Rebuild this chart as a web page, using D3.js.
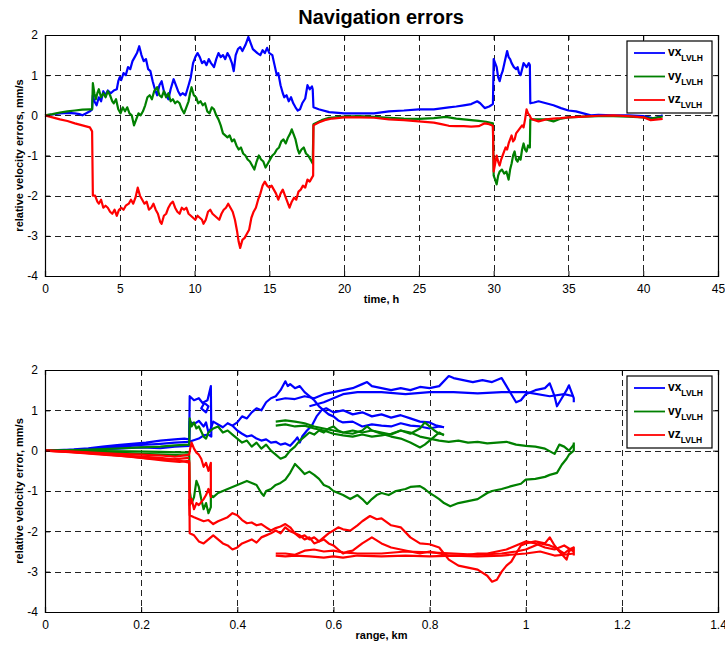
<!DOCTYPE html>
<html>
<head>
<meta charset="utf-8">
<script src="https://cdn.jsdelivr.net/npm/d3@7"></script>
<style>
body{margin:0;background:#fff;}
text{font-family:"Liberation Sans",Arial,Helvetica,sans-serif;}
</style>
</head>
<body>
<script>
"use strict";

// ---- top panel: errors vs time (h) ----
var topVx = [[0,0],[0.5,0.02],[1,0.05],[1.5,0.06],[2,0.05],[2.3,0.03],[2.5,0.0],[2.7,0.04],[3,0.1],[3.15,0.15],[3.2,0.5],[3.3,0.35],[3.45,0.25],[3.6,0.45],[3.75,0.35],[3.9,0.6],[4.05,0.5],[4.2,0.62],[4.4,0.55],[4.6,0.62],[4.8,0.65],[4.9,0.85],[5.0,0.95],[5.1,0.88],[5.25,1.05],[5.4,1.0],[5.55,1.2],[5.7,1.15],[5.85,1.35],[6.0,1.45],[6.15,1.55],[6.3,1.72],[6.45,1.5],[6.6,1.35],[6.75,1.4],[6.9,1.15],[7.05,1.1],[7.2,0.85],[7.35,0.65],[7.5,0.5],[7.65,0.75],[7.8,0.85],[7.95,0.6],[8.1,0.5],[8.25,0.4],[8.4,0.65],[8.6,0.9],[8.75,0.75],[8.9,0.6],[9.05,0.5],[9.2,0.55],[9.4,0.5],[9.6,0.75],[9.75,0.95],[9.9,1.3],[10.05,1.45],[10.2,1.55],[10.35,1.45],[10.5,1.3],[10.65,1.35],[10.8,1.25],[10.95,1.4],[11.1,1.3],[11.3,1.2],[11.45,1.4],[11.6,1.55],[11.75,1.45],[11.9,1.5],[12.05,1.4],[12.2,1.55],[12.35,1.45],[12.5,1.3],[12.62,1.1],[12.75,1.5],[12.9,1.65],[13.05,1.7],[13.2,1.6],[13.4,1.75],[13.6,1.95],[13.75,1.8],[13.9,1.65],[14.05,1.6],[14.2,1.55],[14.4,1.5],[14.55,1.62],[14.7,1.55],[14.85,1.68],[15.0,1.55],[15.2,1.5],[15.35,1.25],[15.5,1.0],[15.6,1.05],[15.75,0.75],[15.9,0.55],[16.0,0.45],[16.15,0.5],[16.3,0.35],[16.45,0.45],[16.6,0.3],[16.75,0.2],[16.9,0.12],[17.05,0.15],[17.2,0.3],[17.4,0.42],[17.55,0.75],[17.7,0.65],[17.85,0.72],[17.9,0.65],[17.95,0.2],[18.3,0.15],[19,0.08],[20,0.05],[21,0.05],[22,0.05],[23,0.1],[24,0.12],[25,0.15],[26,0.15],[27,0.2],[27.5,0.22],[28,0.25],[28.5,0.28],[28.9,0.35],[29.1,0.3],[29.4,0.18],[29.7,0.22],[29.95,0.28],[30.0,1.4],[30.1,1.3],[30.2,1.2],[30.3,0.95],[30.4,0.85],[30.5,1.0],[30.6,1.1],[30.75,1.35],[30.9,1.6],[31.0,1.45],[31.1,1.4],[31.2,1.3],[31.35,1.2],[31.5,1.15],[31.6,1.2],[31.7,1.05],[31.8,1.0],[31.9,1.15],[32.0,1.3],[32.1,1.25],[32.2,1.2],[32.35,1.3],[32.42,1.25],[32.45,0.3],[32.7,0.32],[33,0.35],[33.5,0.3],[34,0.25],[34.5,0.18],[35,0.12],[35.5,0.1],[36,0.05],[36.5,0.0],[37,0.01],[38,0.0],[39,0.0],[40,-0.02],[40.4,-0.05],[40.7,-0.08],[41,-0.04],[41.3,0.0]];

var topVy = [[0,0],[0.5,0.03],[1,0.07],[1.5,0.1],[2,0.12],[2.5,0.14],[3,0.15],[3.15,0.15],[3.2,0.8],[3.3,0.55],[3.4,0.4],[3.5,0.55],[3.6,0.65],[3.75,0.45],[3.9,0.55],[4.05,0.45],[4.2,0.6],[4.35,0.5],[4.5,0.35],[4.6,0.3],[4.75,0.4],[4.9,0.15],[5.05,0.05],[5.2,0.2],[5.35,0.1],[5.5,0.2],[5.65,0.05],[5.8,0.0],[5.95,-0.25],[6.1,-0.1],[6.25,0.05],[6.4,0.0],[6.55,0.1],[6.7,0.25],[6.85,0.45],[7.0,0.5],[7.15,0.4],[7.3,0.6],[7.5,0.7],[7.65,0.5],[7.8,0.45],[7.95,0.6],[8.1,0.45],[8.25,0.55],[8.4,0.35],[8.55,0.4],[8.7,0.3],[8.85,0.35],[9.0,0.3],[9.15,0.15],[9.3,0.05],[9.45,0.2],[9.6,0.35],[9.7,0.55],[9.8,0.7],[9.95,0.5],[10.1,0.45],[10.25,0.3],[10.4,0.35],[10.55,0.25],[10.7,0.3],[10.85,0.1],[11.0,0.05],[11.15,0.2],[11.3,0.15],[11.45,0.0],[11.6,-0.1],[11.75,-0.25],[11.9,-0.45],[12.05,-0.5],[12.2,-0.55],[12.35,-0.5],[12.5,-0.65],[12.65,-0.6],[12.8,-0.75],[12.95,-0.85],[13.1,-0.8],[13.25,-0.95],[13.4,-1.0],[13.55,-1.1],[13.7,-1.15],[13.85,-1.25],[14.0,-1.35],[14.15,-1.15],[14.3,-1.0],[14.45,-1.1],[14.6,-1.15],[14.75,-1.3],[14.9,-1.2],[15.05,-1.1],[15.2,-1.0],[15.35,-0.95],[15.5,-0.85],[15.65,-0.8],[15.8,-0.65],[15.95,-0.6],[16.1,-0.7],[16.25,-0.55],[16.4,-0.45],[16.5,-0.35],[16.6,-0.45],[16.75,-0.6],[16.9,-0.85],[17.0,-0.95],[17.15,-0.85],[17.3,-0.8],[17.45,-0.95],[17.6,-1.0],[17.75,-1.1],[17.9,-1.2],[17.95,-0.22],[18.5,-0.12],[19,-0.06],[20,-0.03],[21,-0.02],[22,-0.04],[23,-0.06],[24,-0.08],[25,-0.09],[26,-0.07],[26.8,-0.04],[27.5,-0.08],[28,-0.1],[28.5,-0.12],[29,-0.14],[29.5,-0.16],[29.95,-0.2],[30.0,-1.5],[30.1,-1.6],[30.2,-1.72],[30.3,-1.5],[30.4,-1.4],[30.55,-1.35],[30.7,-1.45],[30.85,-1.4],[31.0,-1.6],[31.1,-1.35],[31.2,-1.2],[31.3,-1.0],[31.4,-0.9],[31.5,-1.1],[31.6,-1.15],[31.7,-1.05],[31.8,-1.1],[31.9,-0.85],[32.0,-0.7],[32.1,-0.85],[32.2,-0.9],[32.3,-0.75],[32.42,-0.8],[32.45,-0.1],[33,-0.1],[33.5,-0.1],[34,-0.15],[34.5,-0.08],[35,-0.05],[36,-0.03],[37,-0.02],[38,-0.02],[39,-0.03],[40,-0.05],[40.5,-0.08],[41,-0.05],[41.3,-0.03]];

var topVz = [[0,0],[0.5,-0.05],[1,-0.1],[1.5,-0.14],[2,-0.2],[2.5,-0.25],[3,-0.3],[3.15,-0.4],[3.2,-2.0],[3.35,-2.0],[3.5,-2.15],[3.6,-2.2],[3.75,-2.1],[3.9,-2.3],[4.05,-2.25],[4.2,-2.3],[4.35,-2.4],[4.5,-2.45],[4.65,-2.35],[4.8,-2.5],[4.95,-2.35],[5.1,-2.3],[5.25,-2.35],[5.4,-2.25],[5.6,-2.2],[5.75,-2.1],[5.9,-2.2],[6.05,-2.05],[6.2,-1.8],[6.35,-2.0],[6.5,-2.1],[6.65,-2.2],[6.8,-2.15],[6.95,-2.35],[7.1,-2.3],[7.25,-2.2],[7.4,-2.35],[7.55,-2.45],[7.7,-2.65],[7.8,-2.7],[7.95,-2.5],[8.1,-2.45],[8.25,-2.3],[8.4,-2.2],[8.55,-2.15],[8.7,-2.3],[8.85,-2.4],[9.0,-2.45],[9.15,-2.3],[9.3,-2.35],[9.45,-2.3],[9.6,-2.45],[9.75,-2.5],[9.9,-2.55],[10.05,-2.6],[10.2,-2.5],[10.35,-2.55],[10.5,-2.6],[10.6,-2.7],[10.75,-2.6],[10.9,-2.4],[11.05,-2.35],[11.2,-2.45],[11.35,-2.5],[11.5,-2.55],[11.65,-2.6],[11.8,-2.45],[11.95,-2.35],[12.1,-2.3],[12.25,-2.2],[12.4,-2.3],[12.55,-2.4],[12.7,-2.6],[12.85,-2.9],[12.95,-3.15],[13.05,-3.3],[13.2,-3.1],[13.35,-3.05],[13.5,-2.95],[13.65,-2.85],[13.8,-2.55],[13.95,-2.4],[14.1,-2.3],[14.25,-2.1],[14.4,-1.95],[14.55,-1.75],[14.7,-1.65],[14.85,-1.75],[15.0,-1.8],[15.15,-1.75],[15.3,-1.85],[15.45,-1.95],[15.6,-2.1],[15.75,-1.95],[15.9,-1.85],[16.05,-2.0],[16.2,-2.15],[16.35,-2.3],[16.5,-2.15],[16.65,-2.05],[16.8,-2.1],[16.95,-1.9],[17.1,-1.85],[17.25,-1.75],[17.4,-1.8],[17.55,-1.6],[17.7,-1.65],[17.85,-1.55],[17.93,-1.5],[17.95,-0.25],[18.3,-0.18],[18.7,-0.12],[19.2,-0.08],[20,-0.05],[21,-0.05],[22,-0.06],[23,-0.1],[24,-0.12],[25,-0.15],[26,-0.18],[26.5,-0.22],[27,-0.26],[27.5,-0.27],[28,-0.27],[28.5,-0.28],[29,-0.27],[29.4,-0.2],[29.7,-0.22],[29.95,-0.26],[30.0,-1.4],[30.1,-1.2],[30.2,-1.0],[30.3,-1.15],[30.4,-1.25],[30.5,-1.1],[30.6,-1.0],[30.7,-0.9],[30.8,-0.8],[30.9,-0.85],[31.0,-0.7],[31.1,-0.6],[31.2,-0.5],[31.3,-0.65],[31.4,-0.6],[31.5,-0.45],[31.6,-0.4],[31.7,-0.35],[31.8,-0.3],[31.9,-0.25],[32.0,-0.3],[32.1,-0.1],[32.2,0.15],[32.3,0.05],[32.4,0.0],[32.5,-0.08],[32.6,-0.1],[33,-0.15],[33.5,-0.1],[34,-0.08],[34.5,-0.07],[35,-0.05],[36,-0.03],[37,-0.01],[38,0.0],[39,-0.02],[40,-0.05],[40.5,-0.12],[41,-0.1],[41.3,-0.09]];

// ---- bottom panel: errors vs range (km), one array per traced stroke ----
var rangeVxA = [[0,0],[0.03,0.01],[0.06,0.03],[0.09,0.06],[0.12,0.1],[0.15,0.14],[0.18,0.17],[0.21,0.2],[0.24,0.25],[0.27,0.28],[0.29,0.3],[0.3,0.28],[0.301,1.35],[0.31,1.25],[0.32,1.3],[0.33,1.15],[0.325,1.05],[0.335,0.95],[0.34,1.1],[0.33,1.2],[0.338,1.25],[0.345,1.6],[0.346,0.35],[0.34,0.4],[0.33,0.38],[0.32,0.3],[0.3,0.22],[0.27,0.2],[0.24,0.17],[0.2,0.14],[0.16,0.1],[0.12,0.07],[0.08,0.04],[0.04,0.02],[0,0]];
var rangeVxB = [[0,0],[0.05,0.01],[0.1,0.03],[0.15,0.05],[0.2,0.08],[0.24,0.06],[0.27,0.1],[0.3,0.12],[0.301,0.72],[0.31,0.66],[0.32,0.74],[0.33,0.6],[0.335,0.7],[0.34,0.45],[0.345,0.55],[0.35,0.72],[0.36,0.65],[0.37,0.58],[0.38,0.68],[0.39,0.62],[0.4,0.5],[0.41,0.42],[0.42,0.35],[0.43,0.38],[0.44,0.3],[0.45,0.25],[0.46,0.28],[0.47,0.2],[0.48,0.22],[0.49,0.15],[0.5,0.18],[0.51,0.12],[0.52,0.25],[0.525,0.33],[0.53,0.2],[0.535,0.35],[0.545,0.5],[0.555,0.62],[0.565,0.85],[0.575,1.0],[0.585,1.05],[0.6,0.95],[0.62,1.0],[0.64,0.9],[0.66,0.95],[0.68,0.85],[0.7,0.9],[0.72,0.82],[0.74,0.88],[0.76,0.8],[0.78,0.72],[0.8,0.7],[0.815,0.62],[0.83,0.58]];
var rangeVxC = [[0.39,0.62],[0.4,0.7],[0.41,0.85],[0.42,0.8],[0.43,0.95],[0.44,1.05],[0.45,1.0],[0.46,1.2],[0.47,1.3],[0.48,1.35],[0.49,1.5],[0.5,1.72],[0.505,1.6],[0.51,1.65],[0.52,1.55],[0.53,1.6],[0.54,1.45],[0.55,1.35],[0.56,1.25],[0.57,1.1],[0.58,1.0],[0.59,0.9],[0.6,0.85],[0.61,0.75],[0.62,0.7],[0.64,0.72],[0.66,0.6],[0.68,0.65],[0.7,0.62],[0.72,0.6],[0.74,0.68],[0.76,0.62],[0.78,0.6],[0.8,0.55],[0.82,0.6],[0.83,0.58]];
var rangeVxD = [[0.48,1.25],[0.5,1.3],[0.52,1.28],[0.54,1.35],[0.56,1.3],[0.58,1.4],[0.6,1.45],[0.62,1.5],[0.64,1.55],[0.66,1.65],[0.67,1.7],[0.68,1.6],[0.7,1.55],[0.72,1.5],[0.74,1.55],[0.76,1.5],[0.78,1.58],[0.8,1.55],[0.82,1.6],[0.84,1.85],[0.85,1.8],[0.87,1.75],[0.89,1.7],[0.91,1.75],[0.93,1.7],[0.95,1.8],[0.96,1.6],[0.97,1.4],[0.98,1.2],[0.99,1.25],[1.0,1.4],[1.02,1.5],[1.04,1.55],[1.05,1.67],[1.06,1.35],[1.065,1.1],[1.075,1.3],[1.085,1.5],[1.09,1.62],[1.1,1.3],[1.1,1.2]];
var rangeVxE = [[0.55,1.1],[0.58,1.2],[0.6,1.3],[0.62,1.4],[0.65,1.45],[0.7,1.45],[0.75,1.4],[0.8,1.45],[0.85,1.45],[0.9,1.42],[0.95,1.45],[1.0,1.45],[1.05,1.35],[1.08,1.4],[1.1,1.35]];

var rangeVyA = [[0,0],[0.04,0.01],[0.08,0.02],[0.12,0.04],[0.16,0.06],[0.2,0.08],[0.24,0.1],[0.27,0.13],[0.3,0.15],[0.301,0.8],[0.305,0.6],[0.31,0.7],[0.315,0.55],[0.32,0.6],[0.33,0.35],[0.335,0.3],[0.34,0.45],[0.35,0.55],[0.36,0.6],[0.37,0.45],[0.38,0.5],[0.39,0.4],[0.4,0.3],[0.41,0.2],[0.42,0.25],[0.43,0.1],[0.44,0.2],[0.45,0.05],[0.46,0.15],[0.47,0.0],[0.48,-0.1],[0.49,-0.2],[0.5,-0.15],[0.51,0.0],[0.52,0.1],[0.53,0.25],[0.54,0.35],[0.55,0.45],[0.56,0.4],[0.57,0.5],[0.58,0.45],[0.59,0.55],[0.6,0.6],[0.61,0.5],[0.62,0.45],[0.64,0.5],[0.66,0.45],[0.68,0.5],[0.7,0.45],[0.72,0.4],[0.74,0.5],[0.76,0.45],[0.78,0.35],[0.8,0.3],[0.82,0.25],[0.84,0.22],[0.86,0.25],[0.88,0.2],[0.9,0.22],[0.92,0.18],[0.94,0.2],[0.96,0.22],[0.98,0.15],[1.0,0.12],[1.02,0.1],[1.04,0.05],[1.06,-0.08],[1.07,0.15],[1.08,0.1],[1.09,0.0],[1.1,0.15]];
var rangeVyB = [[0,0],[0.05,-0.01],[0.1,-0.03],[0.15,-0.05],[0.2,-0.08],[0.25,-0.1],[0.3,-0.12],[0.301,-1.0],[0.305,-1.3],[0.31,-1.15],[0.315,-0.75],[0.32,-0.9],[0.325,-1.2],[0.33,-1.45],[0.335,-1.3],[0.34,-1.55],[0.345,-1.4],[0.345,-1.1],[0.35,-1.15],[0.36,-1.05],[0.37,-1.0],[0.38,-0.95],[0.39,-0.9],[0.4,-0.85],[0.41,-0.8],[0.42,-0.75],[0.43,-0.8],[0.44,-0.85],[0.45,-1.05],[0.455,-1.12],[0.46,-1.0],[0.47,-0.95],[0.48,-0.85],[0.49,-0.8],[0.5,-0.72],[0.51,-0.55],[0.52,-0.33],[0.53,-0.45],[0.54,-0.58],[0.55,-0.52],[0.56,-0.6],[0.57,-0.7],[0.58,-0.85],[0.59,-0.9],[0.6,-1.0],[0.61,-1.05],[0.62,-1.1],[0.635,-1.2],[0.65,-1.1],[0.66,-1.2],[0.67,-1.32],[0.68,-1.2],[0.69,-1.1],[0.7,-1.05],[0.715,-1.1],[0.73,-1.0],[0.75,-0.95],[0.76,-0.9],[0.78,-0.88],[0.79,-0.95],[0.8,-1.05],[0.81,-1.12],[0.82,-1.2],[0.83,-1.3],[0.843,-1.38],[0.86,-1.3],[0.88,-1.25],[0.9,-1.2],[0.92,-1.05],[0.93,-1.0],[0.95,-0.95],[0.97,-0.88],[0.99,-0.82],[1.0,-0.72],[1.02,-0.7],[1.04,-0.65],[1.05,-0.6],[1.065,-0.55],[1.075,-0.35],[1.085,-0.2],[1.09,-0.1],[1.1,0.0],[1.1,0.2]];
var rangeVyC = [[0,0],[0.06,0.0],[0.12,-0.01],[0.18,-0.02],[0.24,-0.03],[0.3,-0.05]];
var rangeVyD = [[0.48,0.72],[0.5,0.75],[0.52,0.72],[0.54,0.68],[0.56,0.6],[0.58,0.55],[0.6,0.5],[0.62,0.45],[0.64,0.42],[0.66,0.5],[0.67,0.6],[0.68,0.5],[0.7,0.42],[0.72,0.35],[0.74,0.3],[0.76,0.2],[0.78,0.08],[0.79,0.15],[0.8,0.25],[0.81,0.35],[0.82,0.45],[0.83,0.38]];
var rangeVyE = [[0.48,0.62],[0.5,0.65],[0.52,0.6],[0.54,0.62],[0.56,0.55],[0.58,0.5],[0.6,0.42],[0.62,0.38],[0.64,0.35],[0.66,0.4],[0.68,0.35],[0.7,0.38],[0.72,0.42],[0.74,0.5],[0.76,0.42],[0.78,0.55],[0.79,0.7],[0.8,0.6],[0.81,0.5],[0.82,0.42],[0.83,0.4]];

var rangeVzA = [[0,0],[0.04,-0.02],[0.08,-0.05],[0.12,-0.08],[0.16,-0.12],[0.2,-0.15],[0.24,-0.18],[0.27,-0.22],[0.3,-0.3],[0.301,-2.05],[0.31,-2.1],[0.32,-2.25],[0.33,-2.3],[0.34,-2.2],[0.35,-2.1],[0.36,-2.2],[0.37,-2.3],[0.38,-2.35],[0.39,-2.45],[0.4,-2.4],[0.41,-2.3],[0.42,-2.25],[0.43,-2.2],[0.44,-2.28],[0.45,-2.15],[0.46,-2.1],[0.47,-2.05],[0.48,-1.98],[0.49,-2.05],[0.5,-1.9],[0.51,-2.0],[0.52,-2.05],[0.53,-2.15],[0.54,-2.1],[0.55,-2.2],[0.56,-2.15],[0.57,-2.25],[0.58,-2.2],[0.59,-2.3],[0.6,-2.35],[0.61,-2.45],[0.62,-2.55],[0.63,-2.5],[0.64,-2.48],[0.66,-2.3],[0.68,-2.15],[0.7,-2.3],[0.72,-2.4],[0.74,-2.45],[0.76,-2.5],[0.78,-2.55],[0.8,-2.5],[0.82,-2.55],[0.84,-2.6],[0.86,-2.6],[0.88,-2.58],[0.9,-2.55],[0.92,-2.55],[0.94,-2.5],[0.96,-2.45],[0.98,-2.35],[1.0,-2.25],[1.02,-2.3],[1.04,-2.4],[1.06,-2.45],[1.08,-2.35],[1.1,-2.5]];
var rangeVzB = [[0,0],[0.05,-0.03],[0.1,-0.07],[0.15,-0.12],[0.2,-0.18],[0.25,-0.25],[0.28,-0.28],[0.3,-0.25],[0.301,-1.35],[0.305,-1.2],[0.31,-1.45],[0.315,-1.3],[0.32,-1.35],[0.33,-1.2],[0.335,-1.1],[0.34,-0.95],[0.345,-1.15],[0.345,-0.3],[0.34,-0.5],[0.335,-0.3],[0.33,-0.4],[0.325,-0.2],[0.32,-0.1],[0.315,-0.05],[0.31,0.05],[0.305,0.2],[0.302,0.05],[0.3,-0.1],[0.27,-0.15],[0.24,-0.12],[0.2,-0.1],[0.15,-0.08],[0.1,-0.05],[0.05,-0.02],[0,0]];
var rangeVzC = [[0,0],[0.06,-0.04],[0.12,-0.1],[0.18,-0.15],[0.22,-0.2],[0.26,-0.22],[0.3,-0.18]];
var rangeVzD = [[0.3,-1.2],[0.301,-1.6],[0.31,-1.65],[0.32,-1.7],[0.33,-1.75],[0.34,-1.72],[0.35,-1.82],[0.36,-1.75],[0.37,-1.7],[0.38,-1.65],[0.39,-1.55],[0.4,-1.6],[0.41,-1.72],[0.42,-1.8],[0.43,-1.78],[0.44,-1.85],[0.45,-1.82],[0.46,-1.9],[0.47,-1.98],[0.48,-1.92],[0.49,-1.88],[0.5,-1.82],[0.51,-1.9],[0.52,-2.05],[0.53,-2.1],[0.54,-2.2],[0.55,-2.15],[0.56,-2.3],[0.57,-2.25],[0.58,-2.15],[0.59,-2.05],[0.6,-1.98],[0.61,-1.9],[0.62,-1.95],[0.635,-1.98],[0.65,-1.85],[0.66,-1.75],[0.676,-1.62],[0.69,-1.7],[0.7,-1.68],[0.72,-1.85],[0.74,-1.9],[0.76,-2.15],[0.78,-2.3],[0.8,-2.32],[0.82,-2.4],[0.84,-2.7],[0.86,-2.85],[0.88,-2.9],[0.9,-2.95],[0.92,-3.1],[0.93,-3.25],[0.94,-3.2],[0.95,-3.0],[0.96,-2.85],[0.97,-2.75],[0.98,-2.55],[0.99,-2.35],[1.0,-2.3],[1.02,-2.25],[1.04,-2.3],[1.05,-2.15],[1.06,-2.35],[1.07,-2.5],[1.085,-2.7],[1.09,-2.5],[1.1,-2.4],[1.1,-2.6]];
var rangeVzE = [[0.48,-2.55],[0.5,-2.55],[0.52,-2.58],[0.54,-2.48],[0.56,-2.45],[0.58,-2.5],[0.6,-2.48],[0.62,-2.52],[0.65,-2.55],[0.7,-2.55],[0.75,-2.5],[0.8,-2.52],[0.85,-2.55],[0.9,-2.58],[0.95,-2.55],[0.98,-2.5],[1.0,-2.45],[1.03,-2.3],[1.05,-2.35],[1.06,-2.4],[1.08,-2.55],[1.09,-2.45],[1.1,-2.4]];
var rangeVzF = [[0.48,-2.6],[0.5,-2.62],[0.52,-2.6],[0.55,-2.62],[0.58,-2.65],[0.6,-2.62],[0.62,-2.65],[0.65,-2.6],[0.7,-2.62],[0.75,-2.6],[0.8,-2.62],[0.85,-2.6],[0.9,-2.62],[0.95,-2.6],[1.0,-2.55],[1.03,-2.5],[1.06,-2.6],[1.08,-2.58],[1.1,-2.55]];

var seriesNames = ["vx", "vy", "vz"];
var seriesColors = ["#0000ff", "#008000", "#ff0000"];
var yTicks = [-4, -3, -2, -1, 0, 1, 2];
var timeTicks = [0, 5, 10, 15, 20, 25, 30, 35, 40, 45];
var rangeTicks = [0, 0.2, 0.4, 0.6, 0.8, 1, 1.2, 1.4];

var svg = d3.select("body").append("svg").attr("width", 725).attr("height", 648);

svg.append("text").attr("x", 381).attr("y", 24).attr("text-anchor", "middle")
    .attr("font-size", 20).attr("font-weight", "bold").text("Navigation errors");

// plain hyphen minus like MATLAB
function fmt(d){ return String(d); }

function drawPanel(opt){
    var left = 45, right = 718;
    var x = d3.scaleLinear().domain(opt.xDomain).range([left, right]);
    var y = d3.scaleLinear().domain([-4, 2]).range([opt.bottom, opt.top]);
    var h = opt.bottom - opt.top;
    var g = svg.append("g");

    // dashed grid
    var grid = g.append("g").attr("stroke", "#222").attr("stroke-width", 1).attr("stroke-dasharray", "6,4");
    grid.selectAll(".gx").data(opt.xTicks.slice(1, -1)).enter().append("line")
        .attr("x1", d => Math.round(x(d)) + 0.5).attr("x2", d => Math.round(x(d)) + 0.5)
        .attr("y1", opt.top).attr("y2", opt.bottom);
    grid.selectAll(".gy").data(yTicks.slice(1, -1)).enter().append("line")
        .attr("y1", d => Math.round(y(d)) + 0.5).attr("y2", d => Math.round(y(d)) + 0.5)
        .attr("x1", left).attr("x2", right);

    // traces
    var line = d3.line().x(d => x(d[0])).y(d => y(d[1]));
    opt.traces.forEach(function(tr){
        g.append("path").datum(tr.data).attr("d", line).attr("fill", "none")
            .attr("stroke", seriesColors[tr.s]).attr("stroke-width", 2.2)
            .attr("stroke-linejoin", "round");
    });

    // axes (MATLAB style: ticks inward, box)
    g.append("g").attr("transform", "translate(0," + opt.bottom + ")")
        .call(d3.axisBottom(x).tickValues(opt.xTicks).tickSize(-5).tickPadding(8).tickFormat(fmt));
    g.append("g").attr("transform", "translate(0," + opt.top + ")")
        .call(d3.axisTop(x).tickValues(opt.xTicks).tickSize(-5).tickFormat(""));
    g.append("g").attr("transform", "translate(" + left + ",0)")
        .call(d3.axisLeft(y).tickValues(yTicks).tickSize(-5).tickPadding(7).tickFormat(fmt));
    g.append("g").attr("transform", "translate(" + right + ",0)")
        .call(d3.axisRight(y).tickValues(yTicks).tickSize(-5).tickFormat(""));
    g.selectAll(".domain").attr("stroke", "#000").attr("stroke-width", 1.2);
    g.selectAll(".tick line").attr("stroke", "#000");
    g.selectAll(".tick text").attr("font-size", 12).attr("fill", "#000")
        .attr("font-family", "'Liberation Sans', Arial, sans-serif");

    g.append("text").attr("x", (left + right) / 2).attr("y", opt.bottom + 27).attr("text-anchor", "middle")
        .attr("font-size", 11).attr("font-weight", "bold").text(opt.xLabel);
    g.append("text").attr("transform", "translate(23," + (opt.top + h / 2) + ") rotate(-90)")
        .attr("text-anchor", "middle").attr("font-size", 11).attr("font-weight", "bold").text(opt.yLabel);

    // legend
    var lx = 627, ly = opt.top + 6;
    var lg = g.append("g").attr("transform", "translate(" + lx + "," + ly + ")");
    lg.append("rect").attr("width", 85).attr("height", 72).attr("fill", "#fff")
        .attr("stroke", "#000").attr("stroke-width", 1.2);
    seriesNames.forEach(function(name, i){
        var ry = 12 + i * 23.5;
        lg.append("line").attr("x1", 7).attr("x2", 38).attr("y1", ry).attr("y2", ry)
            .attr("stroke", seriesColors[i]).attr("stroke-width", 1.8);
        var t = lg.append("text").attr("x", 41).attr("y", ry + 3).attr("font-weight", "bold").attr("font-size", 12);
        t.append("tspan").text(name);
        t.append("tspan").attr("dy", 5).attr("font-size", 8.5).text("LVLH");
    });
}

drawPanel({
    top: 35, bottom: 276, xDomain: [0, 45], xTicks: timeTicks,
    xLabel: "time, h", yLabel: "relative velocity errors, mm/s",
    traces: [{s: 0, data: topVx}, {s: 1, data: topVy}, {s: 2, data: topVz}]
});

drawPanel({
    top: 370, bottom: 612, xDomain: [0, 1.4], xTicks: rangeTicks,
    xLabel: "range, km", yLabel: "relative velocity error, mm/s",
    traces: [
        {s: 0, data: rangeVxA}, {s: 0, data: rangeVxB}, {s: 0, data: rangeVxC}, {s: 0, data: rangeVxD}, {s: 0, data: rangeVxE},
        {s: 1, data: rangeVyA}, {s: 1, data: rangeVyB}, {s: 1, data: rangeVyC}, {s: 1, data: rangeVyD}, {s: 1, data: rangeVyE},
        {s: 2, data: rangeVzA}, {s: 2, data: rangeVzB}, {s: 2, data: rangeVzC}, {s: 2, data: rangeVzD}, {s: 2, data: rangeVzE}, {s: 2, data: rangeVzF}
    ]
});
</script>
</body>
</html>
